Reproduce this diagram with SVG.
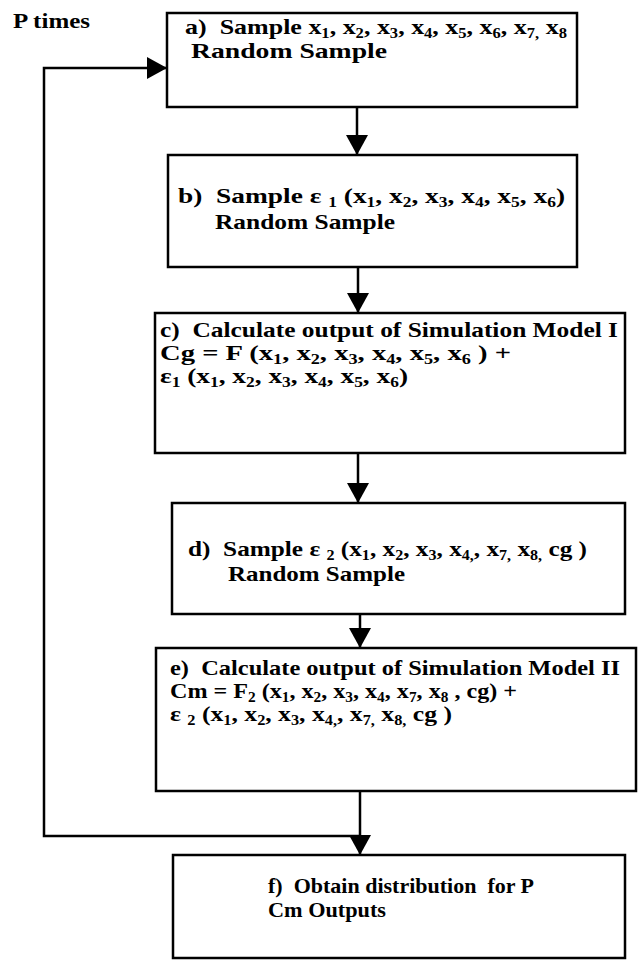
<svg xmlns="http://www.w3.org/2000/svg" width="639" height="960" viewBox="0 0 639 960">
<style>
.t{font-family:"Liberation Serif","Times New Roman",serif;font-weight:bold;font-size:22px;fill:#000}
.s{font-size:14px}
.box{fill:#fff;stroke:#000;stroke-width:2.5}
.conn{fill:none;stroke:#000;stroke-width:2.5}
</style>
<defs>
<marker id="ah" viewBox="0 0 20 22" markerWidth="20" markerHeight="22" refX="20" refY="11" markerUnits="userSpaceOnUse" orient="auto">
<path d="M0,0 L20,11 L0,22 z" fill="#000"/>
</marker>
</defs>
<rect width="639" height="960" fill="#fff"/>
<g id="connectors">
<path class="conn" d="M357 107 V155" marker-end="url(#ah)"/>
<path class="conn" d="M358 267 V313" marker-end="url(#ah)"/>
<path class="conn" d="M358 453 V503" marker-end="url(#ah)"/>
<path class="conn" d="M360 614 V648" marker-end="url(#ah)"/>
<path class="conn" d="M360 791 V855" marker-end="url(#ah)"/>
<path class="conn" d="M360 836 H44 V68 H167" marker-end="url(#ah)"/>
</g>
<g id="label-ptimes">
<text class="t" x="13" y="28" textLength="77" lengthAdjust="spacingAndGlyphs">P times</text>
</g>
<g id="node-a">
<rect class="box" x="167" y="13" width="410" height="94"/>
<text class="t" xml:space="preserve" x="185" y="34" textLength="382" lengthAdjust="spacingAndGlyphs">a)  Sample x<tspan class="s" dy="4">1</tspan><tspan dy="-4">, x</tspan><tspan class="s" dy="4">2</tspan><tspan dy="-4">, x</tspan><tspan class="s" dy="4">3</tspan><tspan dy="-4">, x</tspan><tspan class="s" dy="4">4</tspan><tspan dy="-4">, x</tspan><tspan class="s" dy="4">5</tspan><tspan dy="-4">, x</tspan><tspan class="s" dy="4">6</tspan><tspan dy="-4">, x</tspan><tspan class="s" dy="4">7,</tspan><tspan dy="-4"> x</tspan><tspan class="s" dy="4">8</tspan></text>
<text class="t" x="191" y="58" textLength="196" lengthAdjust="spacingAndGlyphs">Random Sample</text>
</g>
<g id="node-b">
<rect class="box" x="168" y="155" width="409" height="112"/>
<text class="t" xml:space="preserve" x="178" y="203" textLength="387" lengthAdjust="spacingAndGlyphs">b)  Sample ε <tspan class="s" dy="4">1</tspan><tspan dy="-4"> (x</tspan><tspan class="s" dy="4">1</tspan><tspan dy="-4">, x</tspan><tspan class="s" dy="4">2</tspan><tspan dy="-4">, x</tspan><tspan class="s" dy="4">3</tspan><tspan dy="-4">, x</tspan><tspan class="s" dy="4">4</tspan><tspan dy="-4">, x</tspan><tspan class="s" dy="4">5</tspan><tspan dy="-4">, x</tspan><tspan class="s" dy="4">6</tspan><tspan dy="-4">)</tspan></text>
<text class="t" x="215" y="229" textLength="180" lengthAdjust="spacingAndGlyphs">Random Sample</text>
</g>
<g id="node-c">
<rect class="box" x="155" y="313" width="470" height="140"/>
<text class="t" xml:space="preserve" x="160" y="337" textLength="458" lengthAdjust="spacingAndGlyphs">c)  Calculate output of Simulation Model I</text>
<text class="t" xml:space="preserve" x="160" y="360" textLength="351" lengthAdjust="spacingAndGlyphs">Cg = F (x<tspan class="s" dy="4">1</tspan><tspan dy="-4">, x</tspan><tspan class="s" dy="4">2</tspan><tspan dy="-4">, x</tspan><tspan class="s" dy="4">3</tspan><tspan dy="-4">, x</tspan><tspan class="s" dy="4">4</tspan><tspan dy="-4">, x</tspan><tspan class="s" dy="4">5</tspan><tspan dy="-4">, x</tspan><tspan class="s" dy="4">6</tspan><tspan dy="-4"> ) +</tspan></text>
<text class="t" xml:space="preserve" x="160" y="383" textLength="248" lengthAdjust="spacingAndGlyphs">ε<tspan class="s" dy="4">1</tspan><tspan dy="-4"> (x</tspan><tspan class="s" dy="4">1</tspan><tspan dy="-4">, x</tspan><tspan class="s" dy="4">2</tspan><tspan dy="-4">, x</tspan><tspan class="s" dy="4">3</tspan><tspan dy="-4">, x</tspan><tspan class="s" dy="4">4</tspan><tspan dy="-4">, x</tspan><tspan class="s" dy="4">5</tspan><tspan dy="-4">, x</tspan><tspan class="s" dy="4">6</tspan><tspan dy="-4">)</tspan></text>
</g>
<g id="node-d">
<rect class="box" x="172" y="503" width="453" height="111"/>
<text class="t" xml:space="preserve" x="188" y="556" textLength="399" lengthAdjust="spacingAndGlyphs">d)  Sample ε <tspan class="s" dy="4">2</tspan><tspan dy="-4"> (x</tspan><tspan class="s" dy="4">1</tspan><tspan dy="-4">, x</tspan><tspan class="s" dy="4">2</tspan><tspan dy="-4">, x</tspan><tspan class="s" dy="4">3</tspan><tspan dy="-4">, x</tspan><tspan class="s" dy="4">4,</tspan><tspan dy="-4">, x</tspan><tspan class="s" dy="4">7,</tspan><tspan dy="-4"> x</tspan><tspan class="s" dy="4">8,</tspan><tspan dy="-4"> cg )</tspan></text>
<text class="t" x="228" y="581" textLength="177" lengthAdjust="spacingAndGlyphs">Random Sample</text>
</g>
<g id="node-e">
<rect class="box" x="156" y="648" width="480" height="143"/>
<text class="t" xml:space="preserve" x="170" y="675" textLength="450" lengthAdjust="spacingAndGlyphs">e)  Calculate output of Simulation Model II</text>
<text class="t" xml:space="preserve" x="170" y="698" textLength="347" lengthAdjust="spacingAndGlyphs">Cm = F<tspan class="s" dy="4">2</tspan><tspan dy="-4"> (x</tspan><tspan class="s" dy="4">1</tspan><tspan dy="-4">, x</tspan><tspan class="s" dy="4">2</tspan><tspan dy="-4">, x</tspan><tspan class="s" dy="4">3</tspan><tspan dy="-4">, x</tspan><tspan class="s" dy="4">4</tspan><tspan dy="-4">, x</tspan><tspan class="s" dy="4">7</tspan><tspan dy="-4">, x</tspan><tspan class="s" dy="4">8</tspan><tspan dy="-4"> , cg) +</tspan></text>
<text class="t" xml:space="preserve" x="170" y="721" textLength="282" lengthAdjust="spacingAndGlyphs">ε <tspan class="s" dy="4">2</tspan><tspan dy="-4"> (x</tspan><tspan class="s" dy="4">1</tspan><tspan dy="-4">, x</tspan><tspan class="s" dy="4">2</tspan><tspan dy="-4">, x</tspan><tspan class="s" dy="4">3</tspan><tspan dy="-4">, x</tspan><tspan class="s" dy="4">4,</tspan><tspan dy="-4">, x</tspan><tspan class="s" dy="4">7,</tspan><tspan dy="-4"> x</tspan><tspan class="s" dy="4">8,</tspan><tspan dy="-4"> cg )</tspan></text>
</g>
<g id="node-f">
<rect class="box" x="173" y="855" width="452" height="103"/>
<text class="t" xml:space="preserve" x="268" y="893" textLength="266" lengthAdjust="spacingAndGlyphs">f)  Obtain distribution  for P</text>
<text class="t" x="268" y="917" textLength="118" lengthAdjust="spacingAndGlyphs">Cm Outputs</text>
</g>
</svg>
